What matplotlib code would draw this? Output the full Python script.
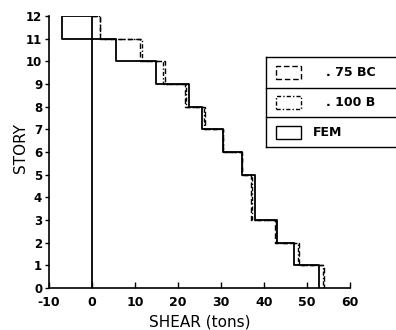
import matplotlib
matplotlib.use("Agg")
import matplotlib.pyplot as plt
from matplotlib.patches import Rectangle
from matplotlib.lines import Line2D

# ---- data ----
stories = [1, 2, 3, 4, 5, 6, 7, 8, 9, 10, 11, 12]
fem = [52.8, 47.0, 43.0, 37.9, 37.9, 34.9, 30.5, 25.5, 22.6, 14.9, 5.5, -6.9]
bc75 = [54.0, 48.2, 42.6, 37.0, 37.0, 34.9, 30.5, 26.3, 21.5, 17.0, 11.2, 1.8]
b100 = [53.8, 48.0, 42.7, 37.1, 37.1, 34.9, 30.5, 26.0, 21.8, 16.6, 11.6, 1.9]
series_labels = [". 75 BC", ". 100 B", "FEM"]
xticks = [-10, 0, 10, 20, 30, 40, 50, 60]
yticks = list(range(0, 13))
xlabel = "SHEAR (tons)"
ylabel = "STORY"

plt.rcParams['font.family'] = ['DejaVu Sans']

fig = plt.figure(figsize=(3.96, 3.30), dpi=100)
ax = fig.add_axes([0.124, 0.127, 0.760, 0.825])


def step_path(vals):
    top = max(stories)
    xs, ys = [0], [top]
    for s, v in sorted(zip(stories, vals), reverse=True):
        xs += [v, v]
        ys += [s, s - 1]
    return xs, ys


lw = 1.3
x, y = step_path(bc75)
ax.plot(x, y, color='black', lw=1.0, ls=(0, (4, 2)))
x, y = step_path(b100)
ax.plot(x, y, color='black', lw=1.0, ls=(0, (3, 1.5, 1, 1.5)))
x, y = step_path(fem)
ax.plot(x, y, color='black', lw=lw)
# zero reference line
ax.plot([0, 0], [0, max(stories)], color='black', lw=lw)

ax.set_xlim(-10, 60)
ax.set_ylim(0, 12)
ax.set_xticks(xticks)
ax.set_yticks(yticks)
ax.set_xticklabels([str(t) for t in xticks], fontsize=9, fontweight='bold')
ax.set_yticklabels([str(t) for t in yticks], fontsize=8.5, fontweight='bold')
ax.tick_params(axis='x', direction='in', length=4, width=1, pad=6)
ax.tick_params(axis='y', direction='out', length=3, width=1, pad=2)
for sp in ['top', 'right']:
    ax.spines[sp].set_visible(False)
for sp in ['left', 'bottom']:
    ax.spines[sp].set_linewidth(1.2)

fig.text(200 / 396, 1 - 322 / 330, xlabel, ha='center', va='center',
         fontsize=11)
fig.text(20 / 396, 1 - 148 / 330, ylabel, ha='center', va='center',
         rotation=90, fontsize=11)

# ---- legend box (drawn in figure pixels) ----
W, H = 396.0, 330.0


def fx(px):
    return px / W


def fy(py):
    return 1 - py / H


box_left, box_right = 266, 400
row_edges = [57, 88, 117, 147]
for py in row_edges:
    fig.add_artist(Line2D([fx(box_left), fx(box_right)], [fy(py), fy(py)],
                          color='black', lw=1.0))
fig.add_artist(Line2D([fx(box_left), fx(box_left)],
                      [fy(row_edges[0]), fy(row_edges[-1])],
                      color='black', lw=1.0))

styles = [(0, (4, 2)), (0, (3, 1.5, 1, 1.5)), '-']
text_x = [326, 326, 313]
for i, (lab, st) in enumerate(zip(series_labels, styles)):
    top, bot = row_edges[i], row_edges[i + 1]
    mid = (top + bot) / 2
    rect = Rectangle((fx(276), fy(mid + 6.5)), fx(301) - fx(276),
                     fy(mid - 6.5) - fy(mid + 6.5), transform=fig.transFigure,
                     fill=False, lw=1.0, ls=st, edgecolor='black')
    fig.add_artist(rect)
    fig.text(fx(text_x[i]), fy(mid), lab, ha='left', va='center',
             fontsize=9, fontweight='bold')

fig.savefig('out.png', dpi=100)
